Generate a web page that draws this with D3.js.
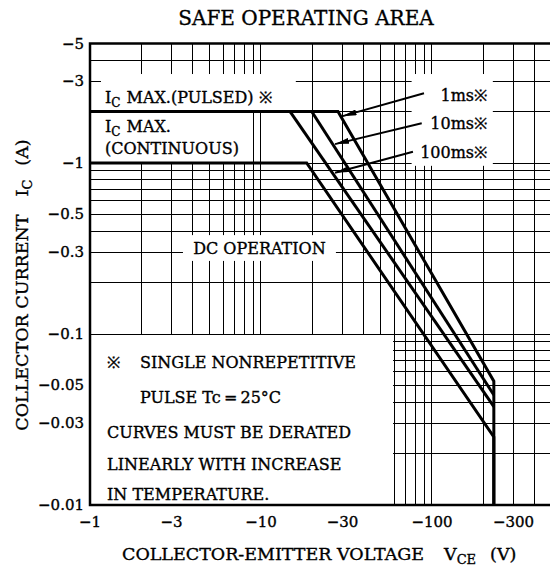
<!DOCTYPE html>
<html>
<head>
<meta charset="utf-8">
<script src="https://cdn.jsdelivr.net/npm/d3@7"></script>
<style>
  body { margin: 0; background: #fff; }
  svg { display: block; font-family: "DejaVu Serif", serif; }
  svg text { fill: #000; stroke: #000; stroke-width: 0.35px; }
</style>
</head>
<body>
<div id="chart"></div>
<script>
// values (V and A, both negative)
var xTicks = [-1, -3, -10, -30, -100, -300];
var yTicks = [-5, -3, -1, -0.5, -0.3, -0.1, -0.05, -0.03, -0.01];

var curveNames = ["1ms", "10ms", "100ms", "DC"];
var vce1ms = [-1, -28.2, -230, -230];
var ic1ms = [-2, -2, -0.053, -0.01];
var vce10ms = [-19.8, -230];
var ic10ms = [-2, -0.044];
var vce100ms = [-14.8, -230];
var ic100ms = [-2, -0.0376];
var vceDC = [-1, -18.5, -230, -230];
var icDC = [-1, -1, -0.025, -0.01];

var W = 550, H = 569;

var x = d3.scaleLog().domain([-1, -500]).range([90, 551.5]);
var y = d3.scaleLog().domain([-0.01, -5]).range([505, 43.5]);

var svg = d3.select("#chart").append("svg")
    .attr("width", W)
    .attr("height", H);

svg.append("defs").append("marker")
    .attr("id", "head")
    .attr("viewBox", "0 0 14 6")
    .attr("refX", 14).attr("refY", 3)
    .attr("markerWidth", 14).attr("markerHeight", 6)
    .attr("markerUnits", "userSpaceOnUse")
    .attr("orient", "auto")
  .append("path")
    .attr("d", "M0,0L14,3L0,6Z")
    .attr("fill", "#000");

// log paper grid: every 1..9 of each decade
var gridX = [], gridY = [];
[1, 10, 100].forEach(function(d) {
    for (var m = 1; m < 10; m++) if (d * m <= 500) gridX.push(-d * m);
});
[0.01, 0.1, 1].forEach(function(d) {
    for (var m = 1; m < 10; m++) if (d * m <= 5) gridY.push(-d * m);
});

var grid = svg.append("g")
    .attr("stroke", "#000")
    .attr("stroke-width", 1)
    .attr("shape-rendering", "crispEdges");
grid.selectAll(".gx").data(gridX).enter().append("line")
    .attr("x1", function(d) { return x(d); })
    .attr("x2", function(d) { return x(d); })
    .attr("y1", y(-0.01)).attr("y2", y(-5));
grid.selectAll(".gy").data(gridY).enter().append("line")
    .attr("y1", function(d) { return y(d); })
    .attr("y2", function(d) { return y(d); })
    .attr("x1", x(-1)).attr("x2", x(-500));

// white label boxes that hide the grid (data units)
var maskBoxes = [
    [-1.144, -16.2, -3.36, -2],     // Ic max pulsed
    [-1, -8.6, -2, -1],             // Ic max continuous
    [-3.45, -27.8, -0.384, -0.264], // DC operation
    [-75, -230, -3.36, -0.95],      // ms labels
    [-1, -60, -0.1, -0.01]          // note
];
svg.append("g").selectAll("rect").data(maskBoxes).enter().append("rect")
    .attr("x", function(d) { return x(d[0]) + 1; })
    .attr("width", function(d) { return x(d[1]) - x(d[0]) - 2; })
    .attr("y", function(d) { return y(d[2]) + 1; })
    .attr("height", function(d) { return y(d[3]) - y(d[2]) - 2; })
    .attr("fill", "#fff");

// frame
svg.append("rect")
    .attr("x", x(-1)).attr("y", y(-5))
    .attr("width", x(-500) - x(-1))
    .attr("height", y(-0.01) - y(-5))
    .attr("fill", "none")
    .attr("stroke", "#000")
    .attr("stroke-width", 2.5);

// SOA curves
var curves = [
    { name: curveNames[0], v: vce1ms, i: ic1ms },
    { name: curveNames[1], v: vce10ms, i: ic10ms },
    { name: curveNames[2], v: vce100ms, i: ic100ms },
    { name: curveNames[3], v: vceDC, i: icDC }
];
var line = d3.line()
    .x(function(d) { return x(d[0]); })
    .y(function(d) { return y(d[1]); });
svg.append("g").selectAll("path").data(curves).enter().append("path")
    .attr("d", function(c) { return line(d3.zip(c.v, c.i)); })
    .attr("fill", "none")
    .attr("stroke", "#000")
    .attr("stroke-width", 3)
    .attr("stroke-linejoin", "miter");

// tick labels
svg.append("g").selectAll("text").data(yTicks).enter().append("text")
    .attr("x", x(-1) - 6)
    .attr("y", function(d) { return y(d) + 5; })
    .attr("text-anchor", "end")
    .attr("font-size", 15)
    .text(function(d) { return "\u2212" + Math.abs(d); });
svg.append("g").selectAll("text").data(xTicks).enter().append("text")
    .attr("x", function(d) { return x(d); })
    .attr("y", y(-0.01) + 22)
    .attr("text-anchor", "middle")
    .attr("font-size", 15)
    .text(function(d) { return "\u2212" + Math.abs(d); });

// titles
svg.append("text")
    .attr("x", 306).attr("y", 25)
    .attr("text-anchor", "middle")
    .attr("font-size", 20)
    .text("SAFE OPERATING AREA");

var xt = svg.append("text")
    .attr("x", 122).attr("y", 560)
    .attr("font-size", 17.5);
xt.append("tspan").text("COLLECTOR-EMITTER VOLTAGE");
xt.append("tspan").attr("dx", 20).text("V");
xt.append("tspan").attr("font-size", 13).attr("dy", 4).text("CE");
xt.append("tspan").attr("dx", 14).attr("dy", -4).text("(V)");

var yt = svg.append("text")
    .attr("transform", "translate(28,285) rotate(-90)")
    .attr("text-anchor", "middle")
    .attr("font-size", 17.5);
yt.append("tspan").text("COLLECTOR CURRENT");
yt.append("tspan").attr("dx", 18).text("I");
yt.append("tspan").attr("font-size", 13).attr("dy", 4).text("C");
yt.append("tspan").attr("dx", 14).attr("dy", -4).text("(A)");

// labels inside the plot
function subLabel(px, py, rest) {
    var t = svg.append("text").attr("x", px).attr("y", py).attr("font-size", 16);
    t.append("tspan").text("I");
    t.append("tspan").attr("font-size", 12).attr("dy", 4).text("C");
    t.append("tspan").attr("dy", -4).attr("dx", 6).text(rest);
    return t;
}
subLabel(x(-1) + 15, 103, "MAX.(PULSED) \u203B");
subLabel(x(-1) + 15, 132, "MAX.");
svg.append("text").attr("x", x(-1) + 15).attr("y", 154)
    .attr("font-size", 16).text("(CONTINUOUS)");
svg.append("text").attr("x", (x(-3.45) + x(-27.8)) / 2).attr("y", 254)
    .attr("text-anchor", "middle")
    .attr("font-size", 16).text("DC OPERATION");

// pulse width labels with arrows (data units)
var msLabelI = [-2.5, -1.713, -1.164];
var arrowFrom = [[-89.8, -2.56], [-87.1, -1.71], [-77.4, -1.164]];
var arrowTo = [[-30.0, -1.88], [-27.1, -1.29], [-27.1, -0.878]];
curveNames.slice(0, 3).forEach(function(n, k) {
    svg.append("text")
        .attr("x", x(-210)).attr("y", y(msLabelI[k]) + 6)
        .attr("text-anchor", "end")
        .attr("font-size", 16)
        .text(n + "\u203B");
    svg.append("line")
        .attr("x1", x(arrowFrom[k][0])).attr("y1", y(arrowFrom[k][1]))
        .attr("x2", x(arrowTo[k][0])).attr("y2", y(arrowTo[k][1]))
        .attr("stroke", "#000")
        .attr("stroke-width", 2)
        .attr("marker-end", "url(#head)");
});

// note
var note = [
    ["\u203B", 17, 368], ["SINGLE NONREPETITIVE", 50, 368],
    ["PULSE  Tc\u2009=\u200925\u00B0C", 50, 403],
    ["CURVES MUST BE DERATED", 17, 438],
    ["LINEARLY WITH INCREASE", 17, 470],
    ["IN TEMPERATURE.", 17, 500]
];
svg.append("g").selectAll("text").data(note).enter().append("text")
    .attr("x", function(d) { return x(-1) + d[1]; })
    .attr("y", function(d) { return d[2]; })
    .attr("font-size", 16)
    .text(function(d) { return d[0]; });
</script>
</body>
</html>
